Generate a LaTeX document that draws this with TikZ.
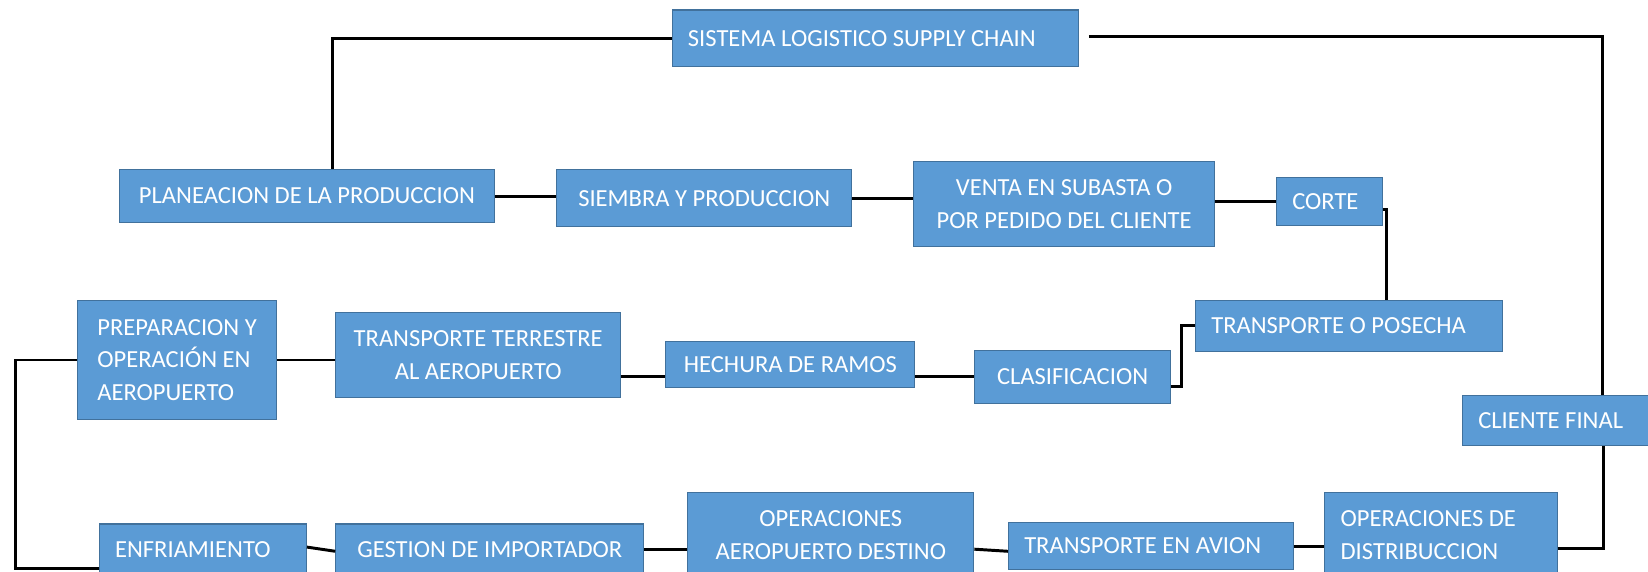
\documentclass[tikz,border=0pt]{standalone}
\usepackage{fontspec}
\setmainfont{Carlito}
\definecolor{caja}{HTML}{5B9BD5}
\definecolor{borde}{HTML}{41719C}

\begin{document}
\begin{tikzpicture}[x=0.02cm,y=-0.02cm]
    \tikzstyle{etapa}=[rectangle,draw=borde,fill=caja,line width=0.6pt,text=white,anchor=north west,inner xsep=0.3cm,inner ysep=0pt,align=center,font=\fontsize{13.3}{17.8}\selectfont]
    \tikzstyle{izq}=[etapa,align=flush left]
    \tikzstyle{enlace}=[line width=1.6pt,black]

    \useasboundingbox (0,0) rectangle (1568,544);
    \clip (0,0) rectangle (1568,544);

    % Draw the top row
    \node[izq,minimum width=7.74cm,minimum height=1.08cm,text width=7.14cm] (sis) at (639,9) {SISTEMA LOGISTICO SUPPLY CHAIN};
    \node[etapa,minimum width=7.14cm,minimum height=1cm] (pla) at (113,161) {PLANEACION DE LA PRODUCCION};
    \node[etapa,minimum width=5.62cm,minimum height=1.08cm] (sie) at (529,161) {SIEMBRA Y PRODUCCION};
    \node[etapa,minimum width=5.72cm,minimum height=1.62cm] (ven) at (869,153) {VENTA EN SUBASTA O\\POR PEDIDO DEL CLIENTE};
    \node[izq,minimum width=2.02cm,minimum height=0.92cm,text width=1.42cm] (cor) at (1214,168) {CORTE};

    % Draw the middle row
    \node[izq,minimum width=5.84cm,minimum height=0.98cm,text width=5.24cm] (pos) at (1137,285) {TRANSPORTE O POSECHA};
    \node[etapa,minimum width=3.72cm,minimum height=1cm] (cla) at (927,333) {CLASIFICACION};
    \node[etapa,minimum width=4.74cm,minimum height=0.88cm] (hec) at (633,324) {HECHURA DE RAMOS};
    \node[etapa,minimum width=5.42cm,minimum height=1.62cm] (ter) at (319,297) {TRANSPORTE TERRESTRE\\AL AEROPUERTO};
    \node[izq,minimum width=3.8cm,minimum height=2.28cm] (pre) at (73,285) {PREPARACION Y\\OPERACIÓN EN\\AEROPUERTO};
    \node[izq,minimum width=3.7cm,minimum height=0.94cm,text width=3.1cm] (cli) at (1391,376) {CLIENTE FINAL};

    % Draw the bottom row
    \node[izq,minimum width=3.94cm,minimum height=0.96cm,text width=3.34cm] (enf) at (94,498) {ENFRIAMIENTO};
    \node[etapa,minimum width=5.86cm,minimum height=0.96cm] (ges) at (319,498) {GESTION DE IMPORTADOR};
    \node[etapa,minimum width=5.44cm,minimum height=1.64cm] (des) at (654,468) {OPERACIONES\\AEROPUERTO DESTINO};
    \node[izq,minimum width=5.42cm,minimum height=0.88cm,text width=4.82cm] (avi) at (959,497) {TRANSPORTE EN AVION};
    \node[izq,minimum width=4.42cm,minimum height=1.64cm,text width=3.82cm] (dis) at (1260,468) {OPERACIONES DE\\DISTRIBUCCION};

    % Link the steps that sit side by side
    \foreach \a/\b in {pla/sie,sie/ven,pre/ter,ges/des,avi/dis}
        \draw[enlace] (\a.east) -- (\a.east -| \b.west);
    \draw[enlace] ([yshift=0.04cm]enf.east) -- ([yshift=-0.04cm]ges.west);
    \draw[enlace] (cor.west -| ven.east) -- (cor.west);
    \draw[enlace] (ter.east |- cla.west) -- (hec.west |- cla.west);
    \draw[enlace] (hec.east |- cla.west) -- (cla.west);
    \draw[enlace] ([yshift=-0.26cm]des.east) -- ([yshift=-0.1cm]avi.west);
    \draw[enlace] ([yshift=-0.16cm]cor.east) -| ([xshift=0.72cm]pos.north);
    \draw[enlace] ([yshift=-0.18cm]cla.east) -- ++(10,0) |- (pos.west);

    % Lines round the outside
    \coordinate (sis-fin) at ([shift={(0.18cm,0.04cm)}]sis.east);
    \draw[enlace] (sis.west) -| ([xshift=0.49cm]pla.north);
    \draw[enlace] (sis-fin) -| ([xshift=0.81cm]cli.north);
    \draw[enlace] ([yshift=-0.24cm]dis.east) -| ([xshift=0.83cm]cli.south);
    \draw[enlace] (pre.west) -- ++(-58,0) |- ([yshift=-0.36cm]enf.west);
\end{tikzpicture}
\end{document}
